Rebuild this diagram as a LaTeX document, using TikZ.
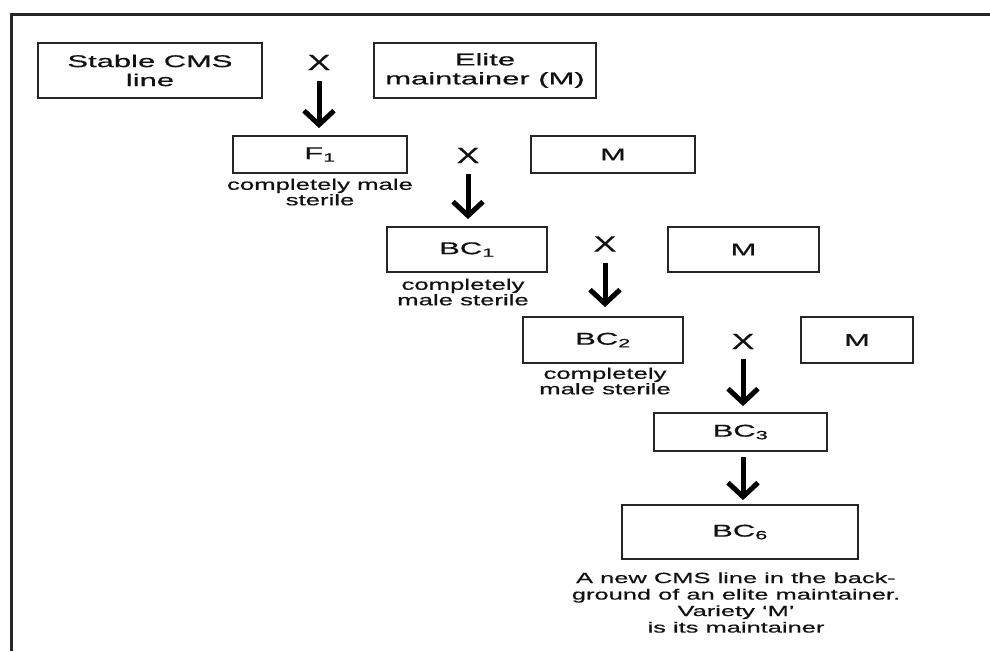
\documentclass[tikz,border=0pt]{standalone}
\usepackage{fontspec}
\setmainfont[FakeStretch=1.82,FakeBold=0.6]{Liberation Sans}
\newfontfamily\capfont[FakeStretch=1.66,FakeBold=0.5]{Liberation Sans}
\newfontfamily\bigcapfont[FakeStretch=1.72,FakeBold=0.5]{Liberation Sans}
\newfontfamily\xfont[FakeStretch=1.55,FakeBold=0.4]{Liberation Sans}
\usetikzlibrary{arrows.meta}
\definecolor{linec}{HTML}{262626}
\definecolor{txtc}{HTML}{111111}
\begin{document}
\begin{tikzpicture}[x=1pt,y=-1pt,
  box/.style={draw=linec, line width=1.8pt, inner sep=0pt, align=center, text=txtc,
    font=\fontsize{17}{19}\selectfont},
  capt/.style={align=center, inner sep=0pt, text=txtc, font=\capfont\fontsize{15.5}{15.5}\selectfont},
  bigcapt/.style={align=center, inner sep=0pt, text=txtc, font=\bigcapfont\fontsize{14.8}{16.5}\selectfont},
  cross/.style={inner sep=0pt, text=txtc, font=\xfont\fontsize{22}{22}\selectfont},
  arr/.style={draw=black, line width=5pt, -{Straight Barb[length=14pt,width=30pt]}}]
\useasboundingbox (0,0) rectangle (990,651);
\fill[white] (0,0) rectangle (990,651);
% frame
\draw[linec, line width=2.5pt, line join=miter] (990,14.5) -- (11.5,14.5) -- (11.5,651);

% row 1
\node[box, minimum width=224pt, minimum height=55pt] (stable) at (150,70.5) {Stable CMS\\line};
\node[box, minimum width=222pt, minimum height=55pt] (elite) at (485,70.5) {Elite\\maintainer (M)};
\node[cross] (x1) at (319,62.5) {X};

% row 2
\node[box, minimum width=174pt, minimum height=37pt] (f1) at (320,154.5) {F\textsubscript{1}};
\node[capt] (cf1) at (320,192) {completely male\\sterile};
\node[box, minimum width=164pt, minimum height=37pt] (m1) at (613,154.5) {M};
\node[cross] (x2) at (468,155.5) {X};

% row 3
\node[box, minimum width=160pt, minimum height=45pt] (bc1) at (467,249.5) {BC\textsubscript{1}};
\node[capt] (cbc1) at (463,292) {completely\\male sterile};
\node[box, minimum width=151pt, minimum height=45pt] (m2) at (743.5,249.5) {M};
\node[cross] (x3) at (605,244) {X};

% row 4
\node[box, minimum width=160pt, minimum height=46pt] (bc2) at (603,340) {BC\textsubscript{2}};
\node[capt] (cbc2) at (605,381) {completely\\male sterile};
\node[box, minimum width=112pt, minimum height=46pt] (m3) at (857,340) {M};
\node[cross] (x4) at (743,341.5) {X};

% row 5
\node[box, minimum width=173pt, minimum height=38pt] (bc3) at (740.5,432) {BC\textsubscript{3}};

% row 6
\node[box, minimum width=236pt, minimum height=54pt] (bc6) at (740,532) {BC\textsubscript{6}};
\node[bigcapt] (cbc6) at (736,602.5) {A new CMS line in the back-\\ground of an elite maintainer.\\Variety ‘M’\\is its maintainer};

% arrows
\draw[arr, shorten <=11pt, shorten >=7pt] (x1.south) -- (x1.south |- f1.north);
\draw[arr, shorten <=11pt, shorten >=7pt] (x2.south) -- (x2.south |- bc1.north);
\draw[arr, shorten <=11pt, shorten >=9pt] (x3.south) -- (x3.south |- bc2.north);
\draw[arr, shorten <=10pt, shorten >=6pt] (x4.south) -- (x4.south |- bc3.north);
\draw[arr, shorten <=5pt, shorten >=4pt] (bc3.south -| x4) -- (bc6.north -| x4);
\end{tikzpicture}
\end{document}
